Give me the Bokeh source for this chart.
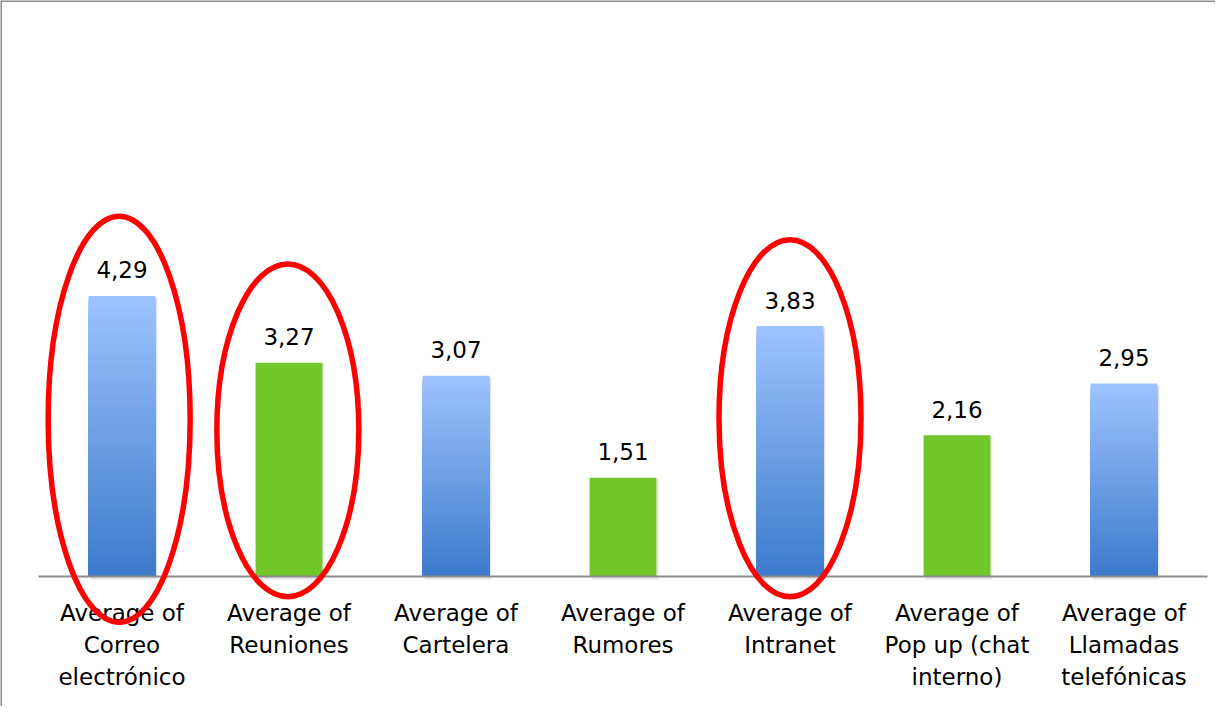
from bokeh.plotting import figure
from bokeh.models import ColumnDataSource, Range1d, Span
from bokeh.core.properties import value
from bokeh.embed import file_html
from bokeh.resources import INLINE

# ---- data ----
categories = ["Average of\nCorreo\nelectrónico", "Average of\nReuniones", "Average of\nCartelera",
              "Average of\nRumores", "Average of\nIntranet", "Average of\nPop up (chat\ninterno)",
              "Average of\nLlamadas\ntelefónicas"]
values = [4.29, 3.27, 3.07, 1.51, 3.83, 2.16, 2.95]
bar_style = ["gradient", "green", "gradient", "green", "gradient", "green", "gradient"]
highlighted = [0, 1, 4]          # categories circled in red

# ---- styling ----
FONT = "DejaVu Sans"
BLUE_TOP = (158, 195, 255)
BLUE_BOT = (60, 123, 203)
GREEN = "#71C72A"
W, H = 1215, 706
PX_X, PX_Y = 167.0, 65.4         # pixels per category / per unit
X0_PX, Y0_PX = 121.5, 576.0      # pixel position of first category / baseline

x_start = -X0_PX / PX_X
y_end = Y0_PX / PX_Y

p = figure(width=W, height=H, output_backend="svg", toolbar_location=None,
           x_range=Range1d(x_start, x_start + W / PX_X),
           y_range=Range1d(y_end - H / PX_Y, y_end),
           min_border=0, outline_line_color=None)
p.axis.visible = False
p.grid.visible = False
p.background_fill_color = "white"
p.border_fill_color = "white"

idx = list(range(len(categories)))

# shadows
p.vbar(x=[i + 0.012 for i in idx], width=0.4, top=[v - 0.02 for v in values],
       bottom=-0.045, fill_color="black", fill_alpha=0.10, line_color=None)

# bars: gradient ones as nested bars (tallest first, lighter on top)
N = 90
xs, tops, cols = [], [], []
for i, (v, st) in enumerate(zip(values, bar_style)):
    if st == "gradient":
        for k in range(N - 1, -1, -1):
            t = (k + 0.5) / N
            c = tuple(int(round(BLUE_BOT[j] + (BLUE_TOP[j] - BLUE_BOT[j]) * t)) for j in range(3))
            xs.append(i); tops.append(v * (k + 1) / N)
            cols.append("#%02x%02x%02x" % c)
    else:
        xs.append(i); tops.append(v); cols.append(GREEN)
p.vbar(x="x", width=0.4, bottom=0, top="t", fill_color="c", line_color=None,
       source=ColumnDataSource(dict(x=xs, t=tops, c=cols)))

# baseline
p.segment(x0=[-0.5], y0=[0], x1=[len(categories) - 0.5], y1=[0], line_color="#8C8C8C", line_width=2)

# value labels
p.text(x=idx, y=values, text=[f"{v:.2f}".replace(".", ",") for v in values],
       text_font=value(FONT), text_font_size="23px", text_align="center",
       text_baseline="alphabetic", y_offset=-26, text_color="black")

# category labels
p.text(x=idx, y=[0] * len(idx), text=categories, text_font=value(FONT), text_font_size="23px",
       text_align="center", text_baseline="top", y_offset=23, text_line_height=1.235,
       text_color="black")

# red ellipses (annotation)
ell_dx = {0: -0.017, 1: -0.007, 4: -0.0}
ell_top = {0: 1.22, 1: 1.51, 4: 1.32}
ell_bot = {0: -0.70, 1: -0.31, 4: -0.31}
ex, ey, eh = [], [], []
for i in highlighted:
    top = values[i] + ell_top[i]
    bot = ell_bot[i]
    ex.append(i + ell_dx[i]); ey.append((top + bot) / 2); eh.append(top - bot)
p.ellipse(x=ex, y=ey, width=142, width_units="screen", height=eh, height_units="data",
          fill_color=None, line_color="#FF0000", line_width=5.5)

# chart border (top and left)
p.add_layout(Span(location=y_end - 0.5 / PX_Y, dimension="width", line_color="#8C8C8C", line_width=2))
p.add_layout(Span(location=x_start + 0.5 / PX_X, dimension="height", line_color="#8C8C8C", line_width=2))

open("out.html", "w").write(file_html(p, INLINE))
